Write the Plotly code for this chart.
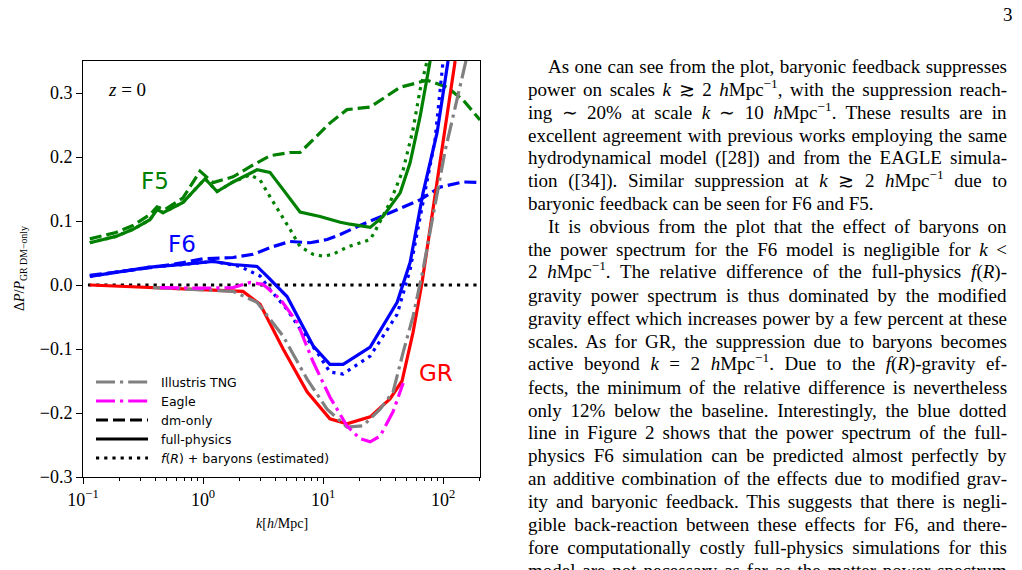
import plotly.graph_objects as go
import math
import json

# ---------------- data ----------------
gr_full_k = [0.114, 0.361, 0.944, 2.15, 2.99, 4.65, 7.36, 11.4, 15.8, 24.7, 36.1, 45.5, 56.2, 66.8, 126]
gr_full_y = [0.0, -0.004, -0.007, -0.010, -0.030, -0.100, -0.167, -0.209, -0.217, -0.206, -0.178, -0.150, -0.074, 0.004, 0.35]

tng_k = [0.383, 0.944, 1.78, 2.82, 4.65, 7.36, 10.8, 15.8, 21.5, 29.9, 38.3, 46.5, 56.2, 68.1, 104, 155]
tng_y = [-0.004, -0.007, -0.010, -0.027, -0.080, -0.147, -0.194, -0.222, -0.220, -0.194, -0.167, -0.105, -0.049, 0.024, 0.21, 0.35]

eagle_k = [0.439, 0.944, 1.78, 2.47, 3.16, 4.39, 6.07, 8.26, 11.4, 15.8, 20.3, 24.7, 29.9, 38.3, 46.5]
eagle_y = [-0.004, -0.005, -0.004, 0.004, 0.001, -0.022, -0.058, -0.120, -0.175, -0.220, -0.240, -0.245, -0.236, -0.198, -0.153]

gr_est_k = [0.110, 195]
gr_est_y = [0.0, 0.0]

f6_full_k = [0.114, 0.188, 0.361, 0.681, 1.21, 1.78, 2.82, 3.41, 5.01, 8.26, 11.4, 14.7, 24.7, 41.4, 53.1, 68.1, 89.1, 110]
f6_full_y = [0.0135, 0.020, 0.028, 0.032, 0.037, 0.032, 0.029, 0.014, -0.018, -0.095, -0.124, -0.124, -0.097, -0.027, 0.035, 0.144, 0.238, 0.35]

f6_est_k = [0.114, 0.188, 0.361, 0.681, 1.21, 2.03, 2.99, 3.61, 5.01, 6.43, 8.91, 11.4, 14.7, 24.7, 41.4, 53.1, 68.1, 85.7, 100]
f6_est_y = [0.0135, 0.020, 0.028, 0.032, 0.037, 0.029, 0.014, -0.007, -0.038, -0.069, -0.105, -0.136, -0.139, -0.111, -0.046, 0.024, 0.133, 0.227, 0.35]

f6_dm_k = [0.114, 0.203, 0.361, 0.681, 1.0, 1.78, 2.61, 3.83, 5.31, 7.80, 10.8, 13.9, 19.2, 36.1, 64.3, 94.4, 147, 203]
f6_dm_y = [0.015, 0.021, 0.027, 0.035, 0.041, 0.043, 0.048, 0.060, 0.068, 0.066, 0.071, 0.079, 0.091, 0.113, 0.133, 0.153, 0.161, 0.160]

f5_full_k = [0.114, 0.188, 0.261, 0.361, 0.414, 0.465, 0.681, 1.04, 1.31, 1.78, 2.82, 3.61, 4.65, 6.43, 9.44, 13.9, 16.8, 24.7, 31.6, 43.9, 53.1, 64.3, 78.0]
f5_full_y = [0.066, 0.076, 0.087, 0.102, 0.118, 0.113, 0.129, 0.166, 0.146, 0.161, 0.180, 0.176, 0.149, 0.114, 0.107, 0.098, 0.095, 0.090, 0.107, 0.144, 0.191, 0.263, 0.350]

f5_est_k = [0.114, 0.188, 0.261, 0.361, 0.414, 0.465, 0.681, 1.04, 1.31, 1.78, 2.47, 2.99, 3.61, 4.39, 5.31, 6.43, 8.26, 10.0, 12.1, 15.8, 24.7, 27.1, 36.1, 46.5, 56.2, 64.3, 73.6]
f5_est_y = [0.066, 0.076, 0.087, 0.102, 0.118, 0.113, 0.129, 0.166, 0.146, 0.161, 0.172, 0.164, 0.138, 0.113, 0.087, 0.060, 0.048, 0.045, 0.048, 0.059, 0.071, 0.084, 0.129, 0.180, 0.243, 0.305, 0.350]

f5_dm_k = [0.114, 0.188, 0.261, 0.361, 0.414, 0.482, 0.681, 0.944, 1.21, 1.78, 2.47, 3.61, 5.31, 6.43, 11.4, 15.8, 24.7, 43.9, 73.6, 108, 147, 203]
f5_dm_y = [0.072, 0.082, 0.093, 0.110, 0.122, 0.118, 0.136, 0.178, 0.160, 0.169, 0.185, 0.202, 0.207, 0.207, 0.253, 0.274, 0.278, 0.309, 0.320, 0.309, 0.289, 0.258]

x_tick_vals = [0.1, 1, 10, 100]
x_tick_text = ["10<sup>−1</sup>", "10<sup>0</sup>", "10<sup>1</sup>", "10<sup>2</sup>"]
y_tick_vals = [-0.3, -0.2, -0.1, 0.0, 0.1, 0.2, 0.3]
y_tick_text = ["−0.3", "−0.2", "−0.1", "0.0", "0.1", "0.2", "0.3"]

legend_labels = ["Illustris TNG", "Eagle", "dm-only", "full-physics",
                 "<i>f</i>(<i>R</i>) + baryons (estimated)"]

text_lines = [
    "As one can see from the plot, baryonic feedback suppresses",
    "power on scales <i>k</i> ≳ 2 <i>h</i>Mpc<sup>−1</sup>, with the suppression reach-",
    "ing ∼ 20% at scale <i>k</i> ∼ 10 <i>h</i>Mpc<sup>−1</sup>. These results are in",
    "excellent agreement with previous works employing the same",
    "hydrodynamical model ([28]) and from the EAGLE simula-",
    "tion ([34]). Similar suppression at <i>k</i> ≳ 2 <i>h</i>Mpc<sup>−1</sup> due to",
    "baryonic feedback can be seen for F6 and F5.",
    "It is obvious from the plot that the effect of baryons on",
    "the power spectrum for the F6 model is negligible for <i>k</i> <",
    "2 <i>h</i>Mpc<sup>−1</sup>. The relative difference of the full-physics <i>f</i>(<i>R</i>)-",
    "gravity power spectrum is thus dominated by the modified",
    "gravity effect which increases power by a few percent at these",
    "scales. As for GR, the suppression due to baryons becomes",
    "active beyond <i>k</i> = 2 <i>h</i>Mpc<sup>−1</sup>. Due to the <i>f</i>(<i>R</i>)-gravity ef-",
    "fects, the minimum of the relative difference is nevertheless",
    "only 12% below the baseline. Interestingly, the blue dotted",
    "line in Figure 2 shows that the power spectrum of the full-",
    "physics F6 simulation can be predicted almost perfectly by",
    "an additive combination of the effects due to modified grav-",
    "ity and baryonic feedback. This suggests that there is negli-",
    "gible back-reaction between these effects for F6, and there-",
    "fore computationally costly full-physics simulations for this",
    "model are not necessary as far as the matter power spectrum",
]
indented_lines = [0, 7]
paragraph_end_lines = [6]

# ---------------- styles ----------------
GREEN, BLUE, RED, MAG, GRAY = "#008000", "#0000ff", "#ff0000", "#ff00ff", "#808080"
LW = 3.2
DASH = "12px,5px"
DOT = "3.2px,5px"
DASHDOT = "19px,5px,3.2px,5px"
SERIF = "Liberation Serif"
SANS = "DejaVu Sans"

W_FIG, H_FIG = 1022, 570
L, R, T, B = 83, 480, 61, 477  # plot box in page pixels
PW, PH = R - L, B - T
TEXT_RIGHT = 1015


def px(xp):
    return (xp - L) / PW


def py(yp):
    return (B - yp) / PH


fig = go.Figure()


def add(k, y, color, dash):
    fig.add_trace(go.Scatter(x=k, y=y, mode="lines", showlegend=False,
                             line=dict(color=color, width=LW, dash=dash)))


add(f6_dm_k, f6_dm_y, BLUE, DASH)
add(f5_dm_k, f5_dm_y, GREEN, DASH)
add(gr_est_k, gr_est_y, "black", DOT)
add(f5_est_k, f5_est_y, GREEN, DOT)
add(f6_est_k, f6_est_y, BLUE, DOT)
add(gr_full_k, gr_full_y, RED, "solid")
add(tng_k, tng_y, GRAY, DASHDOT)
add(eagle_k, eagle_y, MAG, DASHDOT)
add(f6_full_k, f6_full_y, BLUE, "solid")
add(f5_full_k, f5_full_y, GREEN, "solid")

minor_vals = [m * 10 ** d for d in (-1, 0, 1) for m in range(2, 10)] + [200]

fig.update_xaxes(type="log", range=[-1, math.log10(203)], showgrid=False, zeroline=False,
                 showline=True, mirror=True, linecolor="black", linewidth=1,
                 ticks="outside", ticklen=6, tickwidth=1, tickcolor="black",
                 tickvals=x_tick_vals, ticktext=x_tick_text,
                 tickfont=dict(family=SERIF, size=18, color="black"),
                 minor=dict(tickvals=minor_vals, ticks="outside", ticklen=3,
                            tickwidth=0.8, tickcolor="black", showgrid=False))
fig.update_yaxes(range=[-0.3, 0.35], showgrid=False, zeroline=False,
                 showline=True, mirror=True, linecolor="black", linewidth=1,
                 ticks="outside", ticklen=6, tickwidth=1, tickcolor="black",
                 tickvals=y_tick_vals, ticktext=y_tick_text,
                 tickfont=dict(family=SERIF, size=18, color="black"))

ann = []
shapes = []
# curve labels
ann.append(dict(x=px(155), y=py(181), text="F5", font=dict(family=SANS, size=23, color=GREEN)))
ann.append(dict(x=px(182), y=py(244), text="F6", font=dict(family=SANS, size=23, color=BLUE)))
ann.append(dict(x=px(436), y=py(373), text="GR", font=dict(family=SANS, size=23, color=RED)))
ann.append(dict(x=px(127), y=py(89), text="<i>z</i> = 0", font=dict(family=SERIF, size=19, color="black")))
# axis titles
ann.append(dict(x=px(282), y=py(523), text="<i>k</i>[<i>h</i>/Mpc]", font=dict(family=SERIF, size=14, color="black")))
ann.append(dict(x=px(20), y=py(269), text="Δ<i>P</i>/<i>P</i><sub>GR DM−only</sub>", textangle=-90,
                font=dict(family=SERIF, size=14, color="black")))

# legend
leg_styles = [(GRAY, DASHDOT), (MAG, DASHDOT), ("black", DASH), ("black", "solid"), ("black", DOT)]
for i, (lab, (c, d)) in enumerate(zip(legend_labels, leg_styles)):
    yy = 382 + i * 19
    shapes.append(dict(type="line", xref="paper", yref="paper", x0=px(96), x1=px(148),
                       y0=py(yy), y1=py(yy), line=dict(color=c, width=LW, dash=d)))
    ann.append(dict(x=px(159), y=py(yy), text=lab, xanchor="left", align="left",
                    font=dict(family=SANS, size=12.5, color="black")))

# page text
justify_idx = []
for i, line in enumerate(text_lines):
    yc = 67 + i * 22.9
    x0 = 546 if i in indented_lines else 526
    if i not in paragraph_end_lines:
        justify_idx.append(len(ann))
    ann.append(dict(x=px(x0), y=py(yc + 12), text=line, xanchor="left", yanchor="bottom",
                    align="left", font=dict(family=SERIF, size=19, color="black")))
ann.append(dict(x=px(TEXT_RIGHT), y=py(14), text="3", xanchor="right",
                font=dict(family=SERIF, size=19, color="black")))

for a in ann:
    a.setdefault("xref", "paper")
    a.setdefault("yref", "paper")
    a.setdefault("showarrow", False)
    a.setdefault("xanchor", "center")
    a.setdefault("yanchor", "middle")

fig.update_layout(width=W_FIG, height=H_FIG, autosize=False,
                  margin=dict(l=L, r=W_FIG - R, t=T, b=H_FIG - B, pad=0),
                  paper_bgcolor="white", plot_bgcolor="white",
                  annotations=ann, shapes=shapes, showlegend=False,
                  font=dict(family=SERIF, color="black"))

# justify the page-text lines (like the typeset page) by widening word spacing
js = """
(function(){
  try {
    var gd = document.getElementById('{plot_id}');
    var idx = %s;
    var right = %d;
    idx.forEach(function(i){
      var g = gd.querySelector('g.annotation[data-index="' + i + '"]');
      if (!g) return;
      var t = g.querySelector('text.annotation-text');
      if (!t) return;
      var r = t.getBoundingClientRect();
      var n = (t.textContent.match(/ /g) || []).length;
      if (n > 0) {
        var extra = (right - r.right) / n;
        if (extra > -3 && extra < 12) t.style.wordSpacing = extra.toFixed(2) + 'px';
      }
    });
  } catch (e) {}
})();
""" % (json.dumps(justify_idx), TEXT_RIGHT)

fig.write_html("out.html", post_script=js)
